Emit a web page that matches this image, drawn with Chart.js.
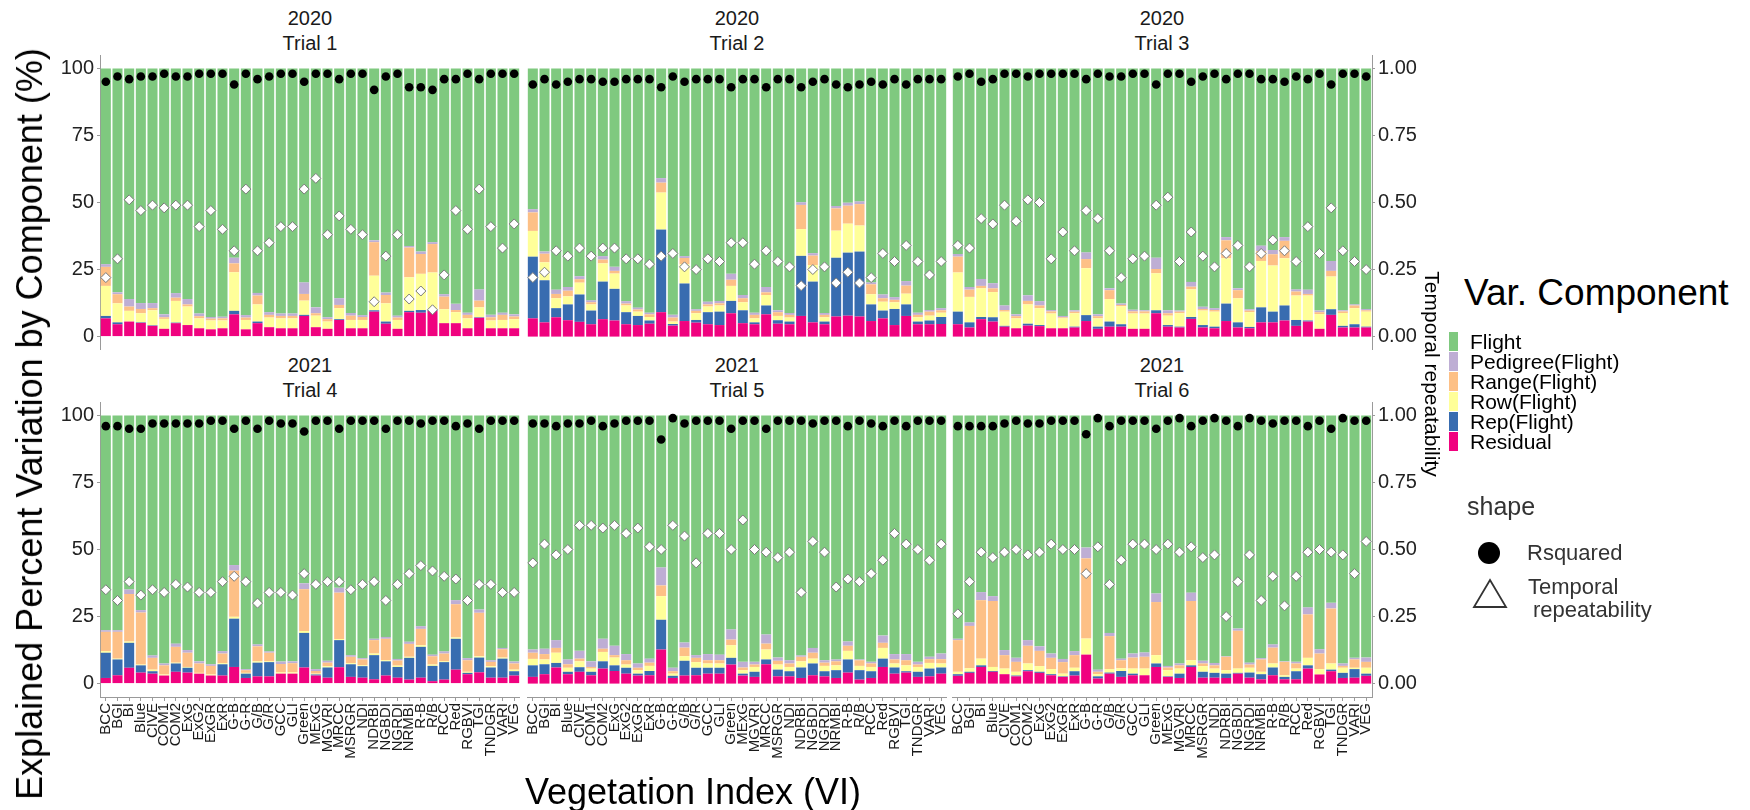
<!DOCTYPE html>
<html>
<head>
<meta charset="utf-8">
<script src="https://cdn.jsdelivr.net/npm/chart.js@4.4.0/dist/chart.umd.min.js"></script>
<style>
  body { margin: 0; background: #fff; font-family: 'Liberation Sans', Arial, Helvetica, sans-serif; }
  #page { position: relative; width: 1750px; height: 810px; overflow: hidden; background: #fff; }
  #page canvas { position: absolute; }
  .txt { position: absolute; white-space: nowrap; color: #1a1a1a; }
</style>
</head>
<body>
<div id="page"></div>
<script>
const indices = ["BCC","BGI","BI","Blue","CIVE","COM1","COM2","ExG","ExG2","ExGR","ExR","G-B","G-R","G/B","G/R","GCC","GLI","Green","MExG","MGVRI","MRCC","MSRGR","NDI","NDRBI","NGBDI","NGRDI","NRMBI","R-B","R/B","RCC","Red","RGBVI","TGI","TNDGR","VARI","VEG"];
const years  = ["2020","2020","2020","2021","2021","2021"];
const trials = ["Trial 1","Trial 2","Trial 3","Trial 4","Trial 5","Trial 6"];
const leftTicks  = [0, 25, 50, 75, 100];
const rightTicks = [0, 0.25, 0.5, 0.75, 1];

// % of variance per component, one row per trial (Trial 1..6)
const residual = [
  [6.8,4.6,5.6,5.1,4.0,2.9,5.0,4.3,3.1,2.7,3.1,8.3,2.7,5.0,3.5,3.1,3.1,7.7,3.5,2.9,6.2,3.1,3.1,9.3,4.8,2.9,9.1,8.9,9.6,5.0,5.0,3.1,7.0,3.1,3.1,3.1],
  [6.8,5.3,7.2,6.1,5.5,4.6,6.5,6.0,4.6,4.3,4.8,9.1,4.1,5.8,5.2,4.6,4.3,8.7,5.0,4.6,8.3,4.8,4.6,7.7,5.3,4.6,7.5,7.8,7.5,5.8,6.8,4.3,7.7,4.6,4.6,4.7],
  [4.6,3.4,6.5,5.6,3.7,3.1,4.1,3.9,3.1,3.1,3.4,5.8,2.9,3.7,3.7,2.9,2.9,8.7,3.7,3.4,6.6,3.4,3.1,5.8,3.4,3.1,5.3,5.3,6.0,4.0,5.6,2.9,8.1,3.4,3.4,3.4],
  [2.1,3.1,5.9,4.1,3.7,3.0,4.4,4.1,3.7,3.0,3.0,6.2,2.1,2.7,2.7,3.7,3.7,6.0,3.0,2.2,6.1,2.5,2.2,1.6,3.0,2.2,1.5,2.2,0.9,1.5,5.2,3.5,4.2,2.2,2.2,3.0],
  [2.5,3.5,6.0,3.5,4.4,3.1,5.6,4.7,3.7,3.0,3.1,12.7,2.1,3.0,3.1,3.7,3.7,7.1,3.0,2.5,7.2,2.7,2.7,2.1,3.1,2.7,2.1,4.1,1.5,2.1,6.2,3.7,4.1,2.5,2.7,3.7],
  [2.9,4.0,6.2,4.4,3.5,2.7,4.6,4.0,3.1,2.5,3.0,10.8,1.9,3.7,2.5,3.1,3.1,6.2,2.5,2.1,6.2,2.2,2.2,2.1,3.7,2.2,1.6,3.1,1.6,1.6,5.6,3.4,4.6,2.1,2.2,2.9]
];
const rep = [
  [0.9,0.7,0,0.2,0.2,0,0.2,0,0,0,0,1.3,0,0.6,0,0,0,0.4,0,0,0.3,0,0,0.5,0.8,0,0.5,1.0,0.3,0,0,0,0.2,0,0,0],
  [23.0,15.7,3.4,5.9,10.2,5.1,14.0,11.8,4.5,3.4,1.2,30.8,0.6,14.0,1.0,4.5,5.0,4.6,4.8,0.7,3.3,1.3,1.0,22.4,15.2,1.0,21.9,23.5,24.2,6.2,2.9,6.0,4.3,1.0,1.4,2.6],
  [4.7,1.9,0.8,1.6,0.3,0,0.7,0.4,0,0,0.3,2.2,0.8,1.9,0.9,0,0,1.1,0.6,0.3,0.7,0.9,0.6,6.5,1.9,0.5,5.6,4.0,5.6,2.2,0.4,0,2.1,0.6,1.2,0.3],
  [9.4,5.9,9.3,2.7,0.9,0,3.1,1.8,0,0,4.2,18.0,1.6,5.1,5.3,0,0,12.9,0.4,3.8,10.1,4.7,4.3,9.0,5.3,4.0,8.1,11.5,5.7,6.5,11.5,0.5,5.5,3.8,7.1,1.6],
  [4.3,3.7,1.7,0.9,1.7,1.3,2.7,2.1,2.2,0.7,1.6,11.1,0.8,5.5,2.8,2.2,2.2,2.5,0.7,1.9,1.8,2.5,1.9,3.9,4.4,1.9,2.9,4.9,3.5,2.5,3.1,2.3,0.5,1.9,2.9,2.3],
  [0.6,0.4,0.6,0.3,0,0.3,0.4,0.4,0.4,0.2,1.6,0,0.8,0.4,2.2,0.6,0,1.3,0.2,1.6,0.6,2.2,1.8,1.6,0.3,1.9,1.9,2.9,0.9,3.0,1.2,0,0.6,1.9,3.2,0.8]
];
const rowVar = [
  [11.2,7.1,4.0,3.4,5.6,3.7,8.1,6.9,3.7,3.3,2.9,14.4,3.5,6.4,3.6,3.7,3.7,5.3,4.3,2.7,4.1,3.1,3.1,12.9,6.8,3.3,12.5,13.5,14.0,5.2,4.1,3.7,3.7,2.9,3.1,3.4],
  [9.6,6.7,3.7,3.0,4.4,2.3,6.8,5.7,2.5,1.6,1.3,13.8,0.9,7.2,2.5,2.1,2.3,5.6,3.0,1.5,3.9,1.6,1.5,10.0,6.2,1.6,10.1,10.8,9.7,3.8,3.3,2.5,4.0,1.6,1.8,1.6],
  [14.6,9.5,10.7,9.4,5.3,3.7,7.2,6.3,5.5,3.7,5.0,17.5,3.1,8.4,6.7,5.7,5.7,13.8,3.5,5.0,10.3,5.4,5.6,16.9,9.0,5.5,17.3,17.2,17.6,9.1,9.3,5.5,12.2,4.8,6.0,5.6],
  [0.6,0.3,0.5,0.3,0.6,0.4,0.3,0.3,0.3,0.4,0.4,0.7,0.3,0.5,0.3,0.5,0.5,0.7,0.3,0.5,0.4,0.4,0.3,0.6,0.4,0.5,0.4,0.6,0.5,0.3,0.5,0.4,0.5,0.5,0.4,0.6],
  [2.4,1.8,3.8,1.5,2.2,1.2,3.5,2.9,1.2,1.3,1.9,8.8,0.8,1.7,2.1,1.6,1.6,4.7,1.3,1.8,3.7,1.9,1.6,2.3,1.8,2.0,1.8,3.2,1.6,1.6,4.0,1.5,2.2,1.8,2.1,1.5],
  [0.9,1.3,2.5,1.5,2.1,1.4,2.5,2.1,1.9,1.0,1.3,6.0,0.8,1.3,1.0,1.9,2.5,3.1,2.3,1.9,1.9,2.1,1.6,1.3,1.6,1.8,0.9,1.5,0.6,1.0,2.8,2.0,2.3,1.9,0.5,2.2]
];
const rangeVar = [
  [7.1,3.4,1.6,1.6,0.8,0.6,1.2,0.8,0.8,0.7,0.8,3.3,0.9,3.3,1.0,0.9,0.9,2.5,0.9,0.9,1.2,1.6,1.1,12.5,3.1,0.9,11.1,7.4,10.6,4.7,0.8,1.3,2.5,1.2,1.9,1.0],
  [6.9,3.2,1.6,2.1,1.3,0.8,1.4,1.0,0.7,0.8,1.0,3.7,1.5,2.3,0.9,0.8,0.8,2.3,1.5,1.3,1.0,1.4,1.0,9.0,3.5,0.9,8.3,6.7,8.0,3.7,1.3,0.9,3.0,0.9,1.5,0.9],
  [5.9,2.7,0.9,1.4,0.6,0.8,1.3,1.0,0.8,0.4,0.6,3.4,0.8,3.3,0.5,0.8,0.8,1.6,0.9,0.6,1.0,0.6,0.6,6.7,3.0,0.6,3.7,4.2,6.5,1.5,0.6,0.7,2.1,0.6,1.0,0.5],
  [7.2,10.0,17.7,19.4,4.4,3.4,5.9,5.3,3.5,3.2,3.6,17.2,1.0,5.6,3.2,3.1,3.4,15.6,1.0,1.3,17.3,2.4,2.2,5.0,8.0,1.9,4.8,6.1,3.1,2.9,12.4,4.3,16.2,1.6,3.1,2.3],
  [2.3,2.0,1.8,1.3,1.0,0.6,1.2,0.9,1.6,0.9,1.2,4.0,0.9,3.2,1.6,1.2,1.2,2.1,1.0,0.9,2.2,1.4,1.3,1.7,2.2,1.2,1.5,1.9,2.1,1.3,1.9,1.5,1.9,0.9,1.4,1.6],
  [11.8,15.8,21.8,24.6,5.0,3.7,6.6,5.7,4.2,4.3,4.7,29.9,0.9,12.3,3.0,4.1,4.4,19.8,1.0,1.2,22.1,1.0,1.2,5.0,14.1,1.2,4.6,5.9,5.0,1.9,16.2,5.8,20.5,0.7,3.1,2.2]
];
const pedigree = [
  [1.0,0.7,2.8,2.2,1.9,1.1,1.7,2.0,1.0,0.6,0.6,2.1,0.9,1.0,1.0,0.9,0.9,4.3,2.2,0.7,2.5,1.0,0.7,0.7,0.9,0.7,0.6,0.9,0.7,0.9,2.3,0.8,4.2,0.9,0.8,0.8],
  [1.2,0.8,1.6,1.4,1.1,0.7,1.3,1.5,0.9,0.7,0.6,1.7,1.0,0.7,0.6,1.0,0.9,2.2,1.2,0.8,2.0,0.7,0.7,1.0,0.9,0.7,0.9,1.1,1.0,0.7,1.4,1.0,1.7,0.8,0.6,0.8],
  [1.0,1.0,2.6,1.9,1.7,0.7,2.1,1.6,0.5,0.5,0.5,2.5,0.7,0.7,0.5,0.6,0.4,4.2,1.1,0.4,1.8,0.8,0.7,1.2,0.7,0.5,2.0,1.6,1.4,0.8,1.6,0.6,3.7,0.4,0.4,0.5],
  [0.6,0.6,1.7,0.9,0.9,0.7,1.2,1.0,0.8,0.6,0.9,2.1,0.4,0.7,0.5,0.9,0.7,2.2,0.7,0.7,1.8,0.6,0.5,0.5,0.7,0.6,0.8,1.0,0.6,0.8,1.5,0.8,1.2,0.6,0.5,0.7],
  [1.2,2.0,2.9,1.8,2.9,2.1,3.7,3.5,2.3,1.6,1.5,6.7,1.3,1.9,1.0,2.3,2.1,3.8,2.1,1.0,3.4,1.2,1.2,0.5,1.8,0.9,0.7,1.6,0.3,0.6,2.7,2.0,2.3,1.0,0.9,2.1],
  [0.5,1.3,3.0,1.8,1.9,1.5,2.1,1.7,1.6,1.2,1.5,4.0,0.8,1.2,0.6,1.5,1.6,3.2,0.6,0.7,3.1,1.0,0.9,0.2,0.8,0.7,0.5,1.2,0.2,0.6,2.6,1.6,2.1,0.9,0.6,1.6]
];
const flight = [
  [73.0,83.5,86.0,87.5,87.5,91.7,83.8,86.0,91.4,92.7,92.6,70.6,92.0,83.7,90.9,91.4,91.4,79.8,89.1,92.8,85.7,91.2,92.0,64.1,83.6,92.2,66.2,68.3,64.8,84.2,87.8,91.1,82.4,91.9,91.1,91.7],
  [52.5,68.3,82.5,81.5,77.5,86.5,70.0,74.0,86.8,89.2,91.1,40.9,91.9,70.0,89.8,87.0,86.7,76.6,84.5,91.1,81.5,90.2,91.2,49.9,68.9,91.2,51.3,50.1,49.6,79.8,84.3,85.3,79.3,91.1,90.1,89.4],
  [69.2,81.5,78.5,80.1,88.4,91.7,84.6,86.8,90.1,92.3,90.2,68.6,91.7,82.0,87.7,90.0,90.2,70.6,90.2,90.3,79.6,88.9,89.4,62.9,82.0,89.8,66.1,67.7,62.9,82.4,82.5,90.3,71.8,90.2,88.0,89.7],
  [80.1,80.1,64.9,72.6,89.5,92.5,85.1,87.5,91.7,92.8,87.9,55.8,94.6,85.4,88.0,91.8,91.7,62.6,94.6,91.5,64.3,89.4,90.5,83.3,82.6,90.8,84.4,78.6,89.2,88.0,68.9,90.5,72.4,91.3,86.7,91.8],
  [87.3,87.0,83.8,91.0,87.8,91.7,83.3,85.9,89.0,92.5,90.7,56.7,94.1,84.7,89.4,89.0,89.2,79.8,91.9,91.9,81.7,90.3,91.3,89.5,86.7,91.3,91.0,84.3,91.0,91.9,82.1,89.0,89.0,91.9,90.0,88.8],
  [83.3,77.2,65.9,67.4,87.5,90.4,83.8,86.1,88.8,90.8,87.9,49.3,94.8,81.1,90.7,88.8,88.4,66.4,93.4,92.5,66.1,91.5,92.3,89.8,79.5,92.2,90.5,85.4,91.7,91.9,71.6,87.2,69.9,92.5,90.4,90.3]
];
const rsquared = [
  [0.95,0.97,0.96,0.97,0.97,0.98,0.97,0.97,0.98,0.98,0.98,0.94,0.98,0.96,0.97,0.98,0.98,0.95,0.98,0.98,0.96,0.98,0.98,0.92,0.97,0.98,0.93,0.93,0.92,0.96,0.96,0.98,0.96,0.98,0.98,0.98],
  [0.94,0.96,0.94,0.95,0.96,0.96,0.95,0.95,0.96,0.96,0.96,0.93,0.97,0.95,0.96,0.96,0.96,0.93,0.96,0.96,0.93,0.96,0.96,0.93,0.95,0.96,0.94,0.93,0.94,0.95,0.94,0.96,0.94,0.96,0.96,0.96],
  [0.97,0.98,0.95,0.96,0.98,0.98,0.97,0.98,0.98,0.98,0.98,0.96,0.98,0.97,0.97,0.98,0.98,0.94,0.98,0.98,0.95,0.97,0.98,0.96,0.98,0.98,0.96,0.96,0.95,0.97,0.96,0.98,0.94,0.98,0.98,0.97],
  [0.96,0.96,0.95,0.95,0.97,0.97,0.97,0.97,0.97,0.98,0.98,0.95,0.98,0.95,0.98,0.97,0.97,0.94,0.98,0.98,0.95,0.98,0.98,0.98,0.95,0.98,0.98,0.97,0.98,0.98,0.96,0.97,0.95,0.98,0.98,0.98],
  [0.97,0.97,0.96,0.97,0.97,0.98,0.96,0.97,0.98,0.98,0.98,0.91,0.99,0.97,0.98,0.98,0.98,0.95,0.98,0.98,0.95,0.98,0.98,0.98,0.97,0.98,0.98,0.96,0.98,0.97,0.96,0.98,0.96,0.98,0.98,0.98],
  [0.96,0.96,0.96,0.96,0.97,0.98,0.97,0.97,0.98,0.98,0.98,0.93,0.99,0.96,0.98,0.98,0.98,0.95,0.98,0.99,0.96,0.98,0.99,0.98,0.96,0.99,0.98,0.97,0.98,0.98,0.96,0.98,0.95,0.99,0.98,0.98]
];
const repeatability = [
  [0.22,0.29,0.51,0.47,0.49,0.48,0.49,0.49,0.41,0.47,0.40,0.32,0.55,0.32,0.35,0.41,0.41,0.55,0.59,0.38,0.45,0.40,0.38,0.13,0.30,0.38,0.14,0.17,0.10,0.23,0.47,0.40,0.55,0.41,0.33,0.42],
  [0.22,0.24,0.32,0.30,0.33,0.30,0.33,0.33,0.29,0.29,0.27,0.30,0.31,0.26,0.25,0.29,0.28,0.35,0.35,0.27,0.32,0.28,0.26,0.19,0.25,0.26,0.20,0.24,0.20,0.22,0.31,0.28,0.34,0.28,0.23,0.28],
  [0.34,0.33,0.44,0.42,0.49,0.43,0.51,0.50,0.29,0.39,0.32,0.47,0.44,0.32,0.22,0.29,0.30,0.49,0.52,0.28,0.39,0.30,0.26,0.31,0.34,0.26,0.31,0.36,0.32,0.28,0.41,0.31,0.48,0.32,0.28,0.25],
  [0.35,0.31,0.38,0.33,0.35,0.34,0.37,0.36,0.34,0.34,0.38,0.40,0.38,0.30,0.34,0.34,0.33,0.41,0.37,0.38,0.38,0.35,0.37,0.38,0.31,0.37,0.41,0.44,0.42,0.40,0.39,0.31,0.37,0.37,0.34,0.34],
  [0.45,0.52,0.48,0.50,0.59,0.59,0.58,0.59,0.56,0.58,0.51,0.50,0.59,0.55,0.45,0.56,0.56,0.50,0.61,0.50,0.49,0.47,0.49,0.34,0.53,0.49,0.36,0.39,0.38,0.41,0.46,0.56,0.52,0.50,0.46,0.52],
  [0.26,0.38,0.49,0.47,0.49,0.50,0.48,0.49,0.52,0.50,0.50,0.41,0.51,0.37,0.46,0.52,0.52,0.50,0.52,0.49,0.51,0.47,0.48,0.25,0.38,0.48,0.31,0.40,0.29,0.40,0.49,0.50,0.49,0.48,0.41,0.53]
];

// stacking order bottom -> top
const components = [
  { label: "Residual",         values: residual, color: "#F0027F" },
  { label: "Rep(Flight)",      values: rep,      color: "#386CB0" },
  { label: "Row(Flight)",      values: rowVar,   color: "#FFFF99" },
  { label: "Range(Flight)",    values: rangeVar, color: "#FDC086" },
  { label: "Pedigree(Flight)", values: pedigree, color: "#BEAED4" },
  { label: "Flight",           values: flight,   color: "#7FC97F" }
];

const FONT = "'Liberation Sans', Arial, Helvetica, sans-serif";
Chart.defaults.font.family = FONT;
const axisGrey = "#9a9a9a";
const page = document.getElementById("page");

function addText(txt, css) {
  const d = document.createElement("div");
  d.className = "txt";
  d.textContent = txt;
  d.style.cssText += css;
  page.appendChild(d);
  return d;
}

// fixed axis sizes (only for shown axes) and no label overhang padding,
// so every panel keeps the same plot area
function fitAxis(size) {
  return s => {
    if (s.options.display) {
      if (s.isHorizontal()) s.height = size; else s.width = size;
    }
    s.paddingTop = s.paddingBottom = s.paddingLeft = s.paddingRight = 0;
  };
}

// canvas boxes; plot area is 295px tall, bottom row adds 80px for VI names
const boxes = [
  { x: 40,  y: 55,  w: 480, h: 295 },
  { x: 527, y: 55,  w: 420, h: 295 },
  { x: 952, y: 55,  w: 480, h: 295 },
  { x: 40,  y: 402, w: 480, h: 375 },
  { x: 527, y: 402, w: 420, h: 375 },
  { x: 952, y: 402, w: 480, h: 375 }
];
const stripCenters = [310, 737, 1162];

boxes.forEach((b, p) => {
  const cv = document.createElement("canvas");
  cv.width = b.w; cv.height = b.h;
  cv.style.left = b.x + "px"; cv.style.top = b.y + "px";
  cv.style.width = b.w + "px"; cv.style.height = b.h + "px";
  page.appendChild(cv);

  const col = p % 3, bottomRow = p >= 3;
  const leftAxis = col === 0, rightAxis = col === 2;

  // facet strip
  const sy = bottomRow ? 347 : 0;
  addText(years[p],  `left:${stripCenters[col] - 60}px;width:120px;text-align:center;top:${sy + 6}px;font-size:20px;line-height:24px;`);
  addText(trials[p], `left:${stripCenters[col] - 60}px;width:120px;text-align:center;top:${sy + 31}px;font-size:20px;line-height:24px;`);

  const datasets = [
    {
      type: "line", label: "Rsquared", data: rsquared[p], yAxisID: "y2",
      showLine: false, pointRadius: 4.3, pointBackgroundColor: "#000",
      pointBorderColor: "#000", pointBorderWidth: 0, clip: false, order: 0
    },
    {
      type: "line", label: "Temporal repeatability", data: repeatability[p], yAxisID: "y2",
      showLine: false, pointStyle: "rectRot", pointRadius: 5, pointBackgroundColor: "#fff",
      pointBorderColor: "#7a7a7a", pointBorderWidth: 1, clip: false, order: 0
    }
  ];
  components.forEach(c => datasets.push({
    type: "bar", label: c.label, data: c.values[p], yAxisID: "y",
    backgroundColor: c.color, borderWidth: 0, order: 1,
    barPercentage: 0.86, categoryPercentage: 1
  }));

  new Chart(cv, {
    type: "bar",
    data: { labels: indices, datasets },
    options: {
      responsive: false, maintainAspectRatio: false, animation: false,
      layout: { padding: 0, autoPadding: false },
      plugins: { legend: { display: false }, tooltip: { enabled: false } },
      scales: {
        x: {
          stacked: true, display: bottomRow,
          afterFit: fitAxis(80),
          grid: { drawOnChartArea: false, offset: false, tickLength: 4, color: axisGrey },
          border: { display: true, color: axisGrey },
          ticks: { autoSkip: false, minRotation: 90, maxRotation: 90, padding: 2, color: "#1a1a1a", font: { size: 15 } }
        },
        y: {
          stacked: true, min: -5, max: 105, display: leftAxis,
          afterBuildTicks: s => { s.ticks = leftTicks.map(v => ({ value: v })); },
          afterFit: fitAxis(60),
          grid: { drawOnChartArea: false, tickLength: 3, color: axisGrey },
          border: { display: true, color: axisGrey },
          ticks: { padding: 3, color: "#222", font: { size: 20 }, callback: v => String(v) }
        },
        y2: {
          position: "right", min: -0.05, max: 1.05, display: rightAxis,
          afterBuildTicks: s => { s.ticks = rightTicks.map(v => ({ value: v })); },
          afterFit: fitAxis(60),
          grid: { drawOnChartArea: false, tickLength: 3, color: axisGrey },
          border: { display: true, color: axisGrey },
          ticks: { padding: 3, color: "#222", font: { size: 20 }, callback: v => v.toFixed(2) }
        }
      }
    }
  });
});

// axis titles
addText("Explained Percent Variation by Component (%)",
  "left:30px;top:424px;font-size:36px;line-height:40px;color:#000;transform:translate(-50%,-50%) rotate(-90deg);");
addText("Vegetation Index (VI)",
  "left:693px;top:792px;font-size:36px;line-height:40px;color:#000;transform:translate(-50%,-50%);");
addText("Temporal repeatability",
  "left:1432px;top:374px;font-size:21px;line-height:24px;color:#000;transform:translate(-50%,-50%) rotate(90deg);");

// fill legend
addText("Var. Component", "left:1464px;top:273px;font-size:37px;line-height:40px;color:#000;");
components.slice().reverse().forEach((c, i) => {
  const key = document.createElement("div");
  key.style.cssText = `position:absolute;left:1449px;top:${332 + i * 20}px;width:9px;height:19px;background:${c.color};`;
  page.appendChild(key);
  addText(c.label, `left:1470px;top:${331 + i * 20}px;font-size:21px;line-height:22px;color:#000;`);
});

// shape legend
addText("shape", "left:1467px;top:492px;font-size:25px;line-height:28px;color:#333;filter:blur(0.3px);");
const shapes = document.createElementNS("http://www.w3.org/2000/svg", "svg");
shapes.setAttribute("width", "60"); shapes.setAttribute("height", "80");
shapes.style.cssText = "position:absolute;left:1460px;top:535px;filter:blur(0.3px);";
shapes.innerHTML =
  '<circle cx="29" cy="18" r="11" fill="#000"/>' +
  '<polygon points="30,45 46,72 14,72" fill="none" stroke="#333" stroke-width="1.8"/>';
page.appendChild(shapes);
addText("Rsquared", "left:1527px;top:540px;font-size:22px;line-height:26px;color:#333;filter:blur(0.3px);");
addText("Temporal", "left:1528px;top:574px;font-size:22px;line-height:26px;color:#333;filter:blur(0.3px);");
addText("repeatability", "left:1533px;top:597px;font-size:22px;line-height:26px;color:#333;filter:blur(0.3px);");
</script>
</body>
</html>
